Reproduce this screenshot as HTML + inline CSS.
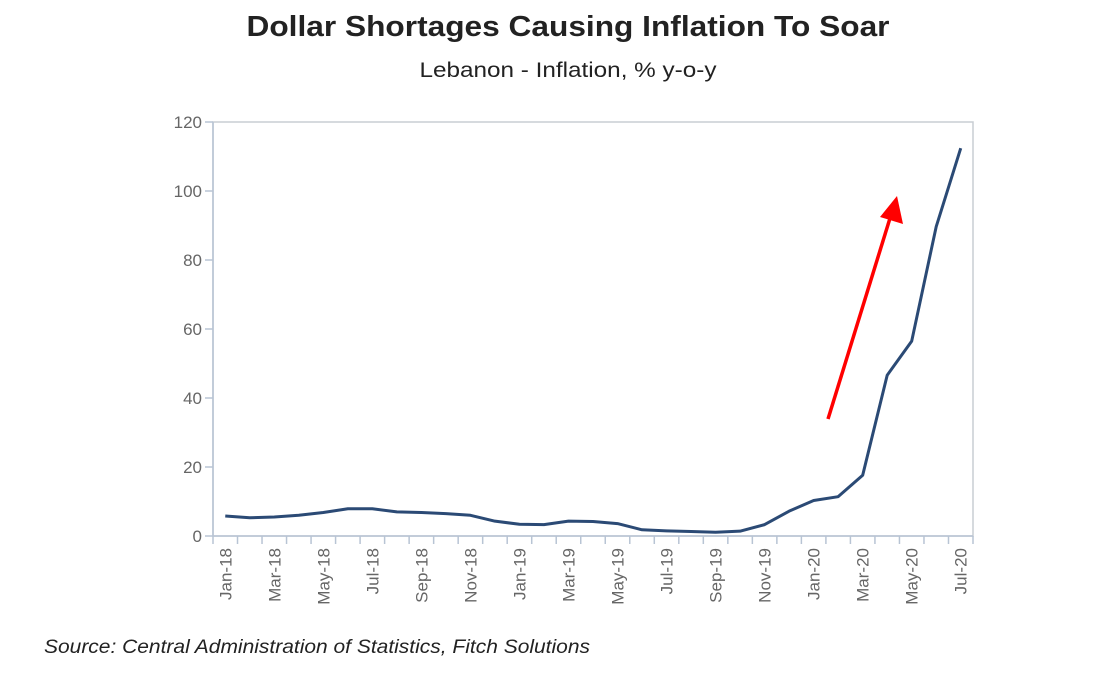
<!DOCTYPE html>
<html><head><meta charset="utf-8"><style>
body{margin:0;background:#fff;width:1105px;height:673px;overflow:hidden;font-family:"Liberation Sans",sans-serif}
</style></head><body>
<svg width="1105" height="673">
<text x="568" y="36" text-anchor="middle" font-size="29" font-weight="bold" fill="#222" textLength="643" lengthAdjust="spacingAndGlyphs">Dollar Shortages Causing Inflation To Soar</text>
<text x="568" y="77" text-anchor="middle" font-size="21" fill="#222" textLength="297" lengthAdjust="spacingAndGlyphs">Lebanon - Inflation, % y-o-y</text>
<g id="plot"></g>
<text x="44" y="653" font-size="19" font-style="italic" fill="#222" textLength="546" lengthAdjust="spacingAndGlyphs">Source: Central Administration of Statistics, Fitch Solutions</text>
</svg>
<script>
const months=["Jan-18","Feb-18","Mar-18","Apr-18","May-18","Jun-18","Jul-18","Aug-18","Sep-18","Oct-18","Nov-18","Dec-18","Jan-19","Feb-19","Mar-19","Apr-19","May-19","Jun-19","Jul-19","Aug-19","Sep-19","Oct-19","Nov-19","Dec-19","Jan-20","Feb-20","Mar-20","Apr-20","May-20","Jun-20","Jul-20"];
const inflation=[5.8,5.3,5.5,6.0,6.8,7.9,7.9,7.0,6.8,6.5,6.0,4.3,3.4,3.3,4.3,4.2,3.6,1.8,1.5,1.3,1.1,1.4,3.3,7.2,10.3,11.4,17.6,46.6,56.5,89.7,112.4];
const yTicks=[0,20,40,60,80,100,120];
const NS="http://www.w3.org/2000/svg";
const g=document.getElementById('plot');
const L=213,R=973,T=122,B=536;
const bw=(R-L)/months.length;
const xs=i=>L+bw*(i+0.5);
const ys=v=>B-(v/120)*(B-T);
function mk(t,a){const e=document.createElementNS(NS,t);for(const k in a)e.setAttribute(k,a[k]);g.appendChild(e);return e;}
let e=mk('rect',{x:L,y:T,width:R-L,height:B-T,fill:'none',stroke:'#c8cdd3','stroke-width':1.5});


yTicks.forEach(v=>{
 let t=mk('text',{x:202,y:ys(v)+6,'text-anchor':'end','font-size':17,fill:'#666'});t.textContent=v;
 
 
 let l=mk('line',{x1:205,x2:L,y1:ys(v),y2:ys(v),stroke:'#b8c4d4','stroke-width':1.5});
 
 
});
e=mk('line',{x1:L,x2:R,y1:B,y2:B,stroke:'#b8c4d4','stroke-width':1.5});


e=mk('line',{x1:L,x2:L,y1:T,y2:B,stroke:'#b8c4d4','stroke-width':1.5});


for(let i=0;i<=months.length;i++){
 let l=mk('line',{x1:L+bw*i,x2:L+bw*i,y1:B,y2:B+8,stroke:'#b8c4d4','stroke-width':1.5});
 
 
}
months.forEach((m,i)=>{
 if(i%2)return;
 const x=xs(i)+6,y=B+12;
 let t=mk('text',{x:x,y:y,'text-anchor':'end','font-size':17,fill:'#666',transform:`rotate(-90 ${x} ${y})`});t.textContent=m;
 
 
});
e=mk('polyline',{points:inflation.map((v,i)=>xs(i)+','+ys(v)).join(' '),fill:'none',stroke:'#2b4a75','stroke-width':3,'stroke-linejoin':'round'});


e=mk('line',{x1:828,y1:419,x2:891,y2:215,stroke:'#f00','stroke-width':3.5});


e=mk('polygon',{points:'897,196 903,224 880,217',fill:'#f00'});


</script>
</body></html>
